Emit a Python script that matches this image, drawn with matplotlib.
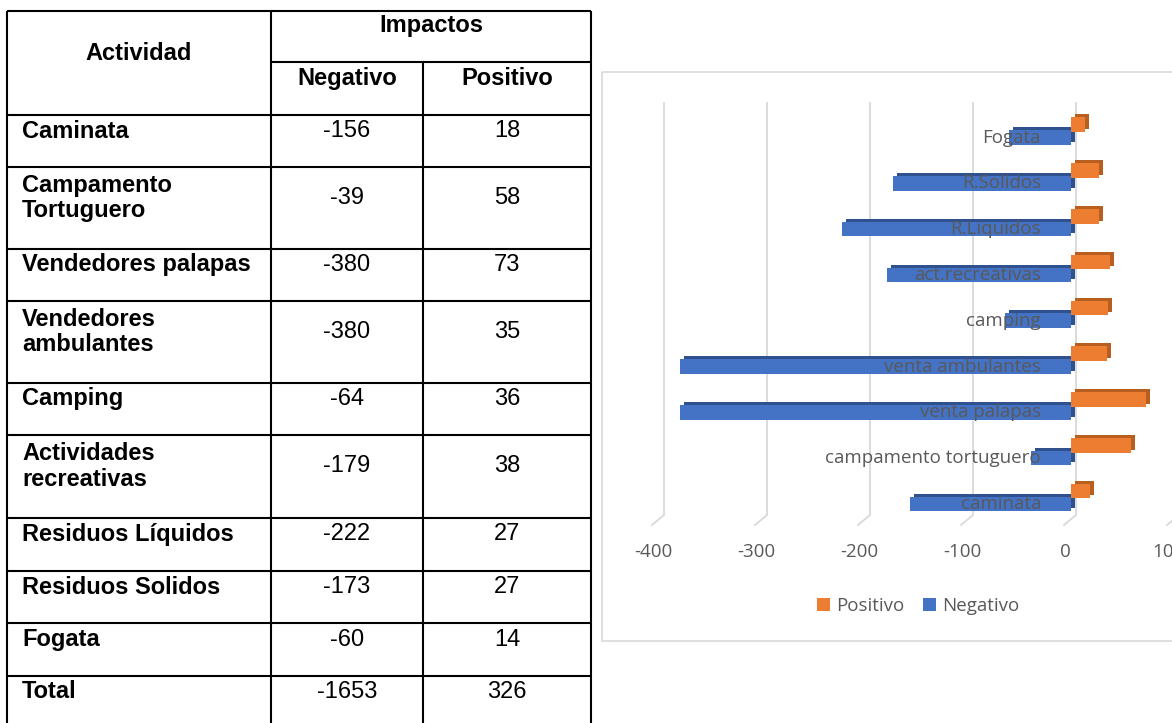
import matplotlib
matplotlib.use("Agg")
import matplotlib.pyplot as plt
import matplotlib.transforms as mtransforms
import numpy as np

# ---------------- data ----------------
actividades = ["Caminata", "Campamento\nTortuguero", "Vendedores palapas",
               "Vendedores\nambulantes", "Camping", "Actividades\nrecreativas",
               "Residuos Líquidos", "Residuos Solidos", "Fogata"]
negativo = [-156, -39, -380, -380, -64, -179, -222, -173, -60]
positivo = [18, 58, 73, 35, 36, 38, 27, 27, 14]
total_label = "Total"

chart_labels = ["caminata", "campamento tortuguero", "venta palapas",
                "venta ambulantes", "camping", "act.recreativas",
                "R.Liquidos", "R.Solidos", "Fogata"]
x_ticks = [-400, -300, -200, -100, 0, 100]

# ---------------- figure ----------------
W, H = 1172, 723
fig = plt.figure(figsize=(W / 100, H / 100), dpi=100)
fig.patch.set_facecolor("white")

bg = fig.add_axes([0, 0, 1, 1], zorder=0)
bg.set_xlim(0, W)
bg.set_ylim(H, 0)
bg.axis("off")

# ---------------- table ----------------
TFONT = "Liberation Sans"
FS = 17
col_x = [7, 271, 423, 591]
row_y = [115, 167, 249, 301, 383, 435, 518, 571, 623, 676, 730]
lw = 1.5
bg.vlines(col_x[0], 11, H + 5, color="black", lw=lw)
bg.vlines(col_x[1], 11, H + 5, color="black", lw=lw)
bg.vlines(col_x[2], 62, H + 5, color="black", lw=lw)
bg.vlines(col_x[3], 11, H + 5, color="black", lw=lw)
bg.hlines(11, col_x[0], col_x[3], color="black", lw=lw)
bg.hlines(62, col_x[1], col_x[3], color="black", lw=lw)
for y in row_y[:-1]:
    bg.hlines(y, col_x[0], col_x[3], color="black", lw=lw)

SHIFT = 10
bg.text((col_x[0] + col_x[1]) / 2, (11 + 115) / 2 - SHIFT, "Actividad",
        ha="center", va="center", fontsize=FS, fontweight="bold", family=TFONT)
bg.text((col_x[1] + col_x[3]) / 2, (11 + 62) / 2 - SHIFT - 1, "Impactos",
        ha="center", va="center", fontsize=FS, fontweight="bold", family=TFONT)
bg.text((col_x[1] + col_x[2]) / 2, (62 + 115) / 2 - SHIFT, "Negativo",
        ha="center", va="center", fontsize=FS, fontweight="bold", family=TFONT)
bg.text((col_x[2] + col_x[3]) / 2, (62 + 115) / 2 - SHIFT, "Positivo",
        ha="center", va="center", fontsize=FS, fontweight="bold", family=TFONT)

rows_text = list(zip(actividades, negativo, positivo))
rows_text.append((total_label, sum(negativo), sum(positivo)))
for i, (name, n, p) in enumerate(rows_text):
    yc = (row_y[i] + row_y[i + 1]) / 2 - SHIFT
    if i == len(rows_text) - 1:
        yc = row_y[i] + 26 - SHIFT
    bg.text(22, yc, name, ha="left", va="center", fontsize=FS,
            fontweight="bold", family=TFONT, linespacing=1.15)
    bg.text((col_x[1] + col_x[2]) / 2, yc, str(n), ha="center", va="center",
            fontsize=FS, family=TFONT)
    bg.text((col_x[2] + col_x[3]) / 2, yc, str(p), ha="center", va="center",
            fontsize=FS, family=TFONT)

# ---------------- chart ----------------
CFONT = "Open Sans"
CFS = 13.5
GRAY = "#595959"
BLUE, BLUE_D = "#4472C4", "#2F528F"
ORANGE, ORANGE_D = "#ED7D31", "#B85F20"

bg.add_patch(plt.Rectangle((602, 72), 600, 569, fill=False,
                           edgecolor="#d9d9d9", lw=1.2))

ax_left, ax_right, ax_top, ax_bot = 602, W, 103, 525
zero_px, px_per_unit = 1071, 1.03
ax = fig.add_axes([ax_left / W, (H - ax_bot) / H, (ax_right - ax_left) / W,
                   (ax_bot - ax_top) / H], zorder=2)
ax.set_xlim((ax_left - zero_px) / px_per_unit, (ax_right - zero_px) / px_per_unit)
ax.set_ylim(-0.6, 8.615)
ax.axis("off")

for v in x_ticks:
    xp = ax.transData.transform((v, 0))[0]
    bg.plot([xp + 5, xp + 5, xp - 7], [ax_top, 515, 525], color="#d9d9d9",
            lw=1.3, solid_joinstyle="miter", zorder=1)
    bg.text(xp - 6, 552, f"{v}", ha="center", va="center", fontsize=CFS,
            color=GRAY, family=CFONT, clip_on=False)

idx = np.arange(len(chart_labels))
bh = 0.32
off = 0.14
shadow = ax.transData + mtransforms.ScaledTranslation(4 / 100, 3 / 100,
                                                      fig.dpi_scale_trans)
ax.barh(idx - off, negativo, height=bh, color=BLUE_D, transform=shadow, zorder=2)
ax.barh(idx + off, positivo, height=bh, color=ORANGE_D, transform=shadow, zorder=2)
h_neg = ax.barh(idx - off, negativo, height=bh, color=BLUE, zorder=3)
h_pos = ax.barh(idx + off, positivo, height=bh, color=ORANGE, zorder=3)

for i, lab in enumerate(chart_labels):
    ax.annotate(lab, (0, i - off), xytext=(-30 * 0.72, 0),
                textcoords="offset points", ha="right", va="center",
                fontsize=CFS, color=GRAY, family=CFONT, zorder=5)

fig.legend(handles=[h_pos, h_neg], labels=["Positivo", "Negativo"],
           loc="center", bbox_to_anchor=(918 / W, 1 - 606 / H), ncol=2,
           frameon=False, prop={"family": CFONT, "size": CFS},
           labelcolor=GRAY, handlelength=0.7, handleheight=0.7,
           handletextpad=0.3, columnspacing=1.0)

fig.savefig("out.png", dpi=100, facecolor="white")
